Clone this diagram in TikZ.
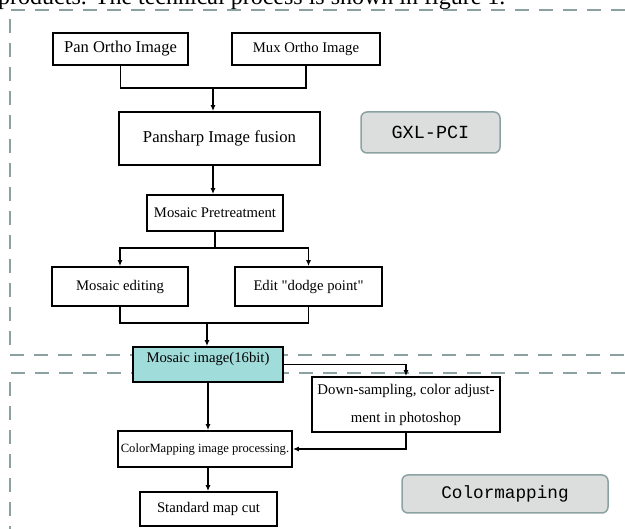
\documentclass[tikz,border=0pt]{standalone}
\usepackage{fontspec}
\setmainfont{Liberation Serif}
\newfontfamily\monofont{Liberation Mono}
\usetikzlibrary{arrows.meta}
\definecolor{dashgray}{RGB}{140,162,162}
\definecolor{mosaicfill}{RGB}{160,220,218}
\definecolor{labelfill}{RGB}{220,222,222}

\begin{document}
\begin{tikzpicture}[x=1pt,y=-1pt,
  box/.style={draw,line width=1.8pt,inner sep=0pt,align=center,
    font=\fontsize{14.7}{17}\selectfont},
  tag/.style={draw=dashgray,fill=labelfill,line width=1.5pt,rounded corners=6pt,
    inner sep=0pt,font=\monofont\fontsize{18.5}{20}\selectfont},
  link/.style={line width=1.8pt},
  arr/.style={link,-{Latex[length=6pt,width=5pt]}},
  frame/.style={dashgray,line width=1.6pt,dash pattern=on 14pt off 10pt}]

% page size and clipping
\useasboundingbox (0,0) rectangle (625,529);
\clip (0,0) rectangle (625,529);

% cut-off line of running text above the figure
\node[anchor=base west,inner sep=0pt,font=\fontsize{24}{26}\selectfont] (intro) at (-2,5)
  {products. The technical process is shown in figure 1.};

% dashed frames of the two parts
\draw[frame] (625,10) -- (10,10) -- (10,355) -- (625,355);
\draw[frame] (625,373) -- (10,373) -- (10,540);

% GXL-PCI part
\node[box,minimum width=135pt,minimum height=32pt,font=\fontsize{16.5}{18}\selectfont] (pan) at (120.5,49) {Pan Ortho Image};
\node[box,minimum width=148pt,minimum height=32pt] (mux) at (306,49) {Mux Ortho Image};
\node[box,minimum width=201pt,minimum height=53pt,font=\fontsize{16.7}{18}\selectfont] (fusion) at (219.5,138.5) {Pansharp Image fusion};
\node[box,minimum width=136pt,minimum height=36pt] (pretreat) at (215,213) {Mosaic Pretreatment};
\node[box,minimum width=136pt,minimum height=39pt] (editing) at (120,286.5) {Mosaic editing};
\node[box,minimum width=147pt,minimum height=39pt] (dodge) at (308.5,286.5) {Edit \textquotedbl dodge point\textquotedbl};
\node[tag,minimum width=139pt,minimum height=41pt] (gxl) at (430.5,132.5) {GXL-PCI};

% Colormapping part
\node[box,fill=mosaicfill,minimum width=150pt,minimum height=35pt] (mosaic) at (208,364.5)
  {\raisebox{1.5pt}[0pt][0pt]{Mosaic image(16bit)}};
\node[box,minimum width=188pt,minimum height=55pt,font=\fontsize{14.8}{28}\selectfont] (down) at (406,404.5)
  {Down-sampling, color adjust-\\ment in photoshop};
\node[box,minimum width=174pt,minimum height=36pt,font=\fontsize{12.6}{15}\selectfont] (cmproc) at (205,449) {ColorMapping image processing.};
\node[box,minimum width=137pt,minimum height=34pt] (cut) at (208.5,509) {Standard map cut};
\node[tag,minimum width=206pt,minimum height=38pt,font=\monofont\fontsize{17.7}{20}\selectfont] (cmtag) at (505,494) {Colormapping};

% join and split points
\coordinate (j1) at (213,88);
\coordinate (s1) at (215,248);
\coordinate (j2) at (207,323);

% connectors
\draw[link] (pan.south) |- (j1) -| (mux.south);
\draw[arr] (j1) -- (j1 |- fusion.north);
\draw[arr] (j1 |- fusion.south) -- (j1 |- pretreat.north);
\draw[link] (pretreat.south) -- (s1);
\draw[arr] (s1) -| (editing.north);
\draw[arr] (s1) -| (dodge.north);
\draw[link] (editing.south) |- (j2) -| (dodge.south);
\draw[arr] (j2) -- (j2 |- mosaic.north);
\draw[arr] (mosaic.east) -| (down.north);
\draw[arr] (down.south) |- (cmproc.east);
\draw[arr] (mosaic.south) -- (mosaic.south |- cmproc.north);
\draw[arr] (mosaic.south |- cmproc.south) -- (mosaic.south |- cut.north);

\end{tikzpicture}
\end{document}
